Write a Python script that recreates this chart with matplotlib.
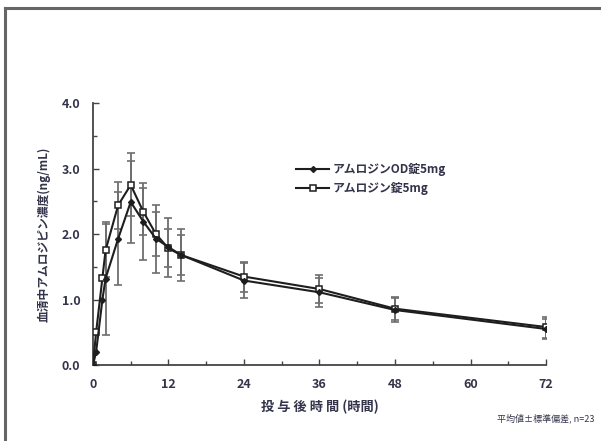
import numpy as np
import matplotlib
matplotlib.use('Agg')
import matplotlib.pyplot as plt
from matplotlib.lines import Line2D

plt.rcParams['font.family'] = ['Noto Sans CJK JP', 'DejaVu Sans']

# 投与後時間 (時間)
hours = [0, 0.5, 1.5, 2, 4, 6, 8, 10, 12, 14, 24, 36, 48, 72]
# アムロジンOD錠5mg
od_mean = [0, 0.2, 1.0, 1.32, 1.93, 2.49, 2.19, 1.93, 1.80, 1.68, 1.29, 1.11, 0.84, 0.55]
od_sd = [np.nan, np.nan, np.nan, 0.86, 0.71, 0.63, 0.59, 0.52, 0.45, 0.39, 0.26, 0.22, 0.19, 0.15]
# アムロジン錠5mg
tab_mean = [0, 0.5, 1.33, 1.75, 2.44, 2.75, 2.34, 2.0, 1.78, 1.68, 1.35, 1.16, 0.86, 0.58]
tab_sd = [np.nan, np.nan, np.nan, 0.41, 0.36, 0.48, 0.36, 0.34, 0.29, 0.30, 0.23, 0.21, 0.18, 0.16]

xticks = [0, 12, 24, 36, 48, 60, 72]
yticks = [0.0, 1.0, 2.0, 3.0, 4.0]

txt = '#33334a'
line_c = '#1e1e1e'
err_c = '#6e6e6e'

fig = plt.figure(figsize=(6.01, 4.41), dpi=100)
# 外枠 (上と左のみ)
fig.add_artist(Line2D([0.009, 1.0], [0.981, 0.981], color='#666666', lw=2.2))
fig.add_artist(Line2D([0.009, 0.009], [0.0, 0.981], color='#666666', lw=2.2))

ax = fig.add_axes([0.1547, 0.1723, 0.7538, 0.5941])

t = np.array(hours)
for mean, sd in [(od_mean, od_sd), (tab_mean, tab_sd)]:
    mean = np.array(mean)
    sd = np.array(sd)
    m = ~np.isnan(sd)
    ax.errorbar(t[m], mean[m], yerr=sd[m], fmt='none', ecolor=err_c,
                elinewidth=1.3, capsize=3, capthick=1.2, zorder=2)

ax.plot(hours, tab_mean, color=line_c, lw=1.5, marker='s', ms=3.8,
        mfc='white', mec=line_c, mew=1.1, zorder=3)
ax.plot(hours, od_mean, color=line_c, lw=1.5, marker='D', ms=3.0,
        mfc=line_c, mec=line_c, zorder=4)

ax.set_xlim(0, 72)
ax.set_ylim(0, 4.0)
ax.set_xticks(xticks)
ax.set_xticks(range(0, 73, 6), minor=True)
ax.set_yticks(yticks)
ax.set_yticks(np.arange(0, 4.01, 0.5), minor=True)
ax.set_yticklabels([f'{v:.1f}' for v in yticks])
ax.tick_params(axis='both', which='both', direction='in', color='#444444',
               labelcolor=txt, labelsize=9, width=1.0)
ax.tick_params(axis='both', which='major', length=4)
ax.tick_params(axis='both', which='minor', length=3)
ax.tick_params(axis='x', pad=9)
ax.tick_params(axis='y', pad=9)
for lab in ax.get_xticklabels() + ax.get_yticklabels():
    lab.set_fontweight('bold')

for s in ['top', 'right']:
    ax.spines[s].set_visible(False)
for s in ['left', 'bottom']:
    ax.spines[s].set_color('#444444')
    ax.spines[s].set_linewidth(1.3)

ax.set_ylabel('血清中アムロジピン濃度(ng/mL)', color=txt, fontsize=8.5,
              fontweight='bold', labelpad=8)
ax.set_xlabel('投 与 後 時 間 (時間)', color=txt, fontsize=9.5,
              fontweight='bold', labelpad=7)

handles = [
    Line2D([], [], color=line_c, lw=1.5, marker='D', ms=3.0, mfc=line_c),
    Line2D([], [], color=line_c, lw=1.5, marker='s', ms=3.8, mfc='white', mew=1.1),
]
leg = ax.legend(handles, ['アムロジンOD錠5mg', 'アムロジン錠5mg'],
                loc='upper left', bbox_to_anchor=(0.425, 0.81), frameon=False,
                handlelength=2.8, handletextpad=0.3, labelspacing=0.45,
                prop={'size': 8.5, 'weight': 'bold'})
for tx in leg.get_texts():
    tx.set_color(txt)

fig.text(0.99, 0.05, '平均値±標準偏差, n=23', ha='right', va='center',
         fontsize=6.5, color=txt)

fig.savefig('out.png', dpi=100)
